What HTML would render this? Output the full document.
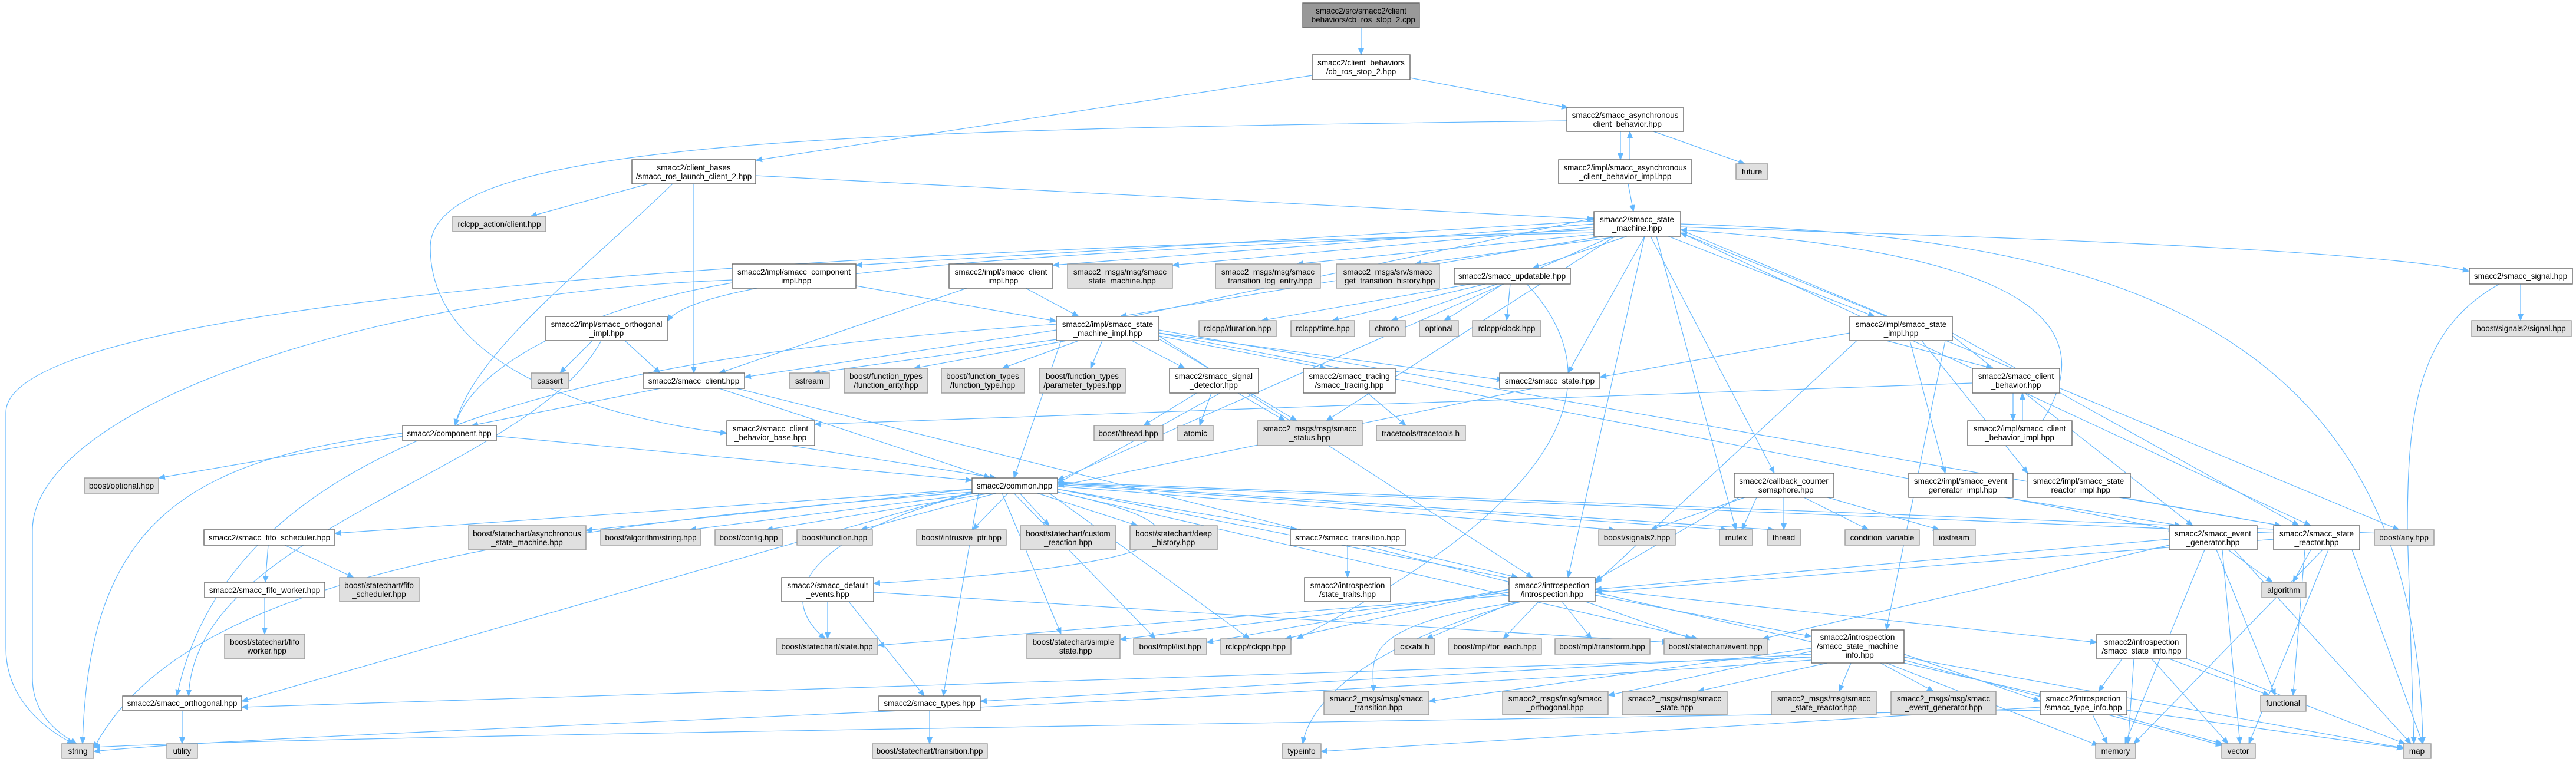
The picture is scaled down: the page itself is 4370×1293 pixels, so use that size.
<!DOCTYPE html>
<html><head><meta charset="utf-8"><style>
html,body{margin:0;padding:0;background:#fff;}
svg{display:block;}
text{font-family:"Liberation Sans",Arial,sans-serif;font-size:13.5px;fill:#000;text-anchor:middle;}
.w{fill:#fff;stroke:#666;stroke-width:1.4;}
.g{fill:#e0e0e0;stroke:#999;stroke-width:1.4;}
.d{fill:#999;stroke:#666;stroke-width:1.4;}
.e path{fill:none;stroke:#63b8ff;stroke-width:1.2;marker-end:url(#a);}
</style></head><body>
<svg width="4370" height="1293" viewBox="0 0 4370 1293" xmlns="http://www.w3.org/2000/svg">
<defs><marker id="a" markerUnits="userSpaceOnUse" markerWidth="12" markerHeight="10" refX="11" refY="5" orient="auto"><path d="M0,0 L12,5 L0,10 z" fill="#63b8ff"/></marker></defs>
<g class="e">
<path d="M2309 47 L2309 93"/>
<path d="M2392 132 L2660 183"/>
<path d="M2226 128 L1282 272"/>
<path d="M2749 223 L2749 271"/>
<path d="M2765 271 L2765 223"/>
<path d="M2762 312 L2771 359"/>
<path d="M2805 223 L2960 278"/>
<path d="M2658 205 C1400 220 730 240 730 420 C730 650 1100 720 1233 735"/>
<path d="M1100 312 L900 367"/>
<path d="M1177 312 L1177 633"/>
<path d="M1282 298 L2704 372"/>
<path d="M1141 312 C1000 450 800 600 772 722"/>
<path d="M2704 375 L1452 450"/>
<path d="M2704 380 L1786 450"/>
<path d="M2710 385 L1989 450"/>
<path d="M2730 395 L2200 448"/>
<path d="M2750 401 L2400 448"/>
<path d="M2760 401 L2600 455"/>
<path d="M2851 385 C3300 400 4000 420 4189 460"/>
<path d="M2704 390 C2000 420 1200 450 1132 545"/>
<path d="M2720 401 L1900 537"/>
<path d="M2790 401 L2660 633"/>
<path d="M2830 401 L3180 537"/>
<path d="M3200 537 L2851 395"/>
<path d="M2740 401 L2250 714"/>
<path d="M2735 401 L1794 815"/>
<path d="M2790 401 L2660 980"/>
<path d="M2800 401 L3010 803"/>
<path d="M2810 401 L2945 899"/>
<path d="M2851 390 L4070 899"/>
<path d="M2851 380 C3500 400 4100 500 4110 1262"/>
<path d="M2851 395 L3920 892"/>
<path d="M2704 395 C1500 420 10 500 10 700 L10 1100 C10 1200 100 1250 125 1262"/>
<path d="M1452 485 L1792 545"/>
<path d="M1242 480 C1000 520 800 620 772 722"/>
<path d="M1242 475 C600 500 55 700 55 900 L55 1150 C55 1220 110 1250 130 1262"/>
<path d="M1740 489 L1830 537"/>
<path d="M1640 489 L1220 633"/>
<path d="M2520 482 L2260 544"/>
<path d="M2540 482 L2360 544"/>
<path d="M2550 482 L2450 544"/>
<path d="M2562 482 L2556 544"/>
<path d="M2495 482 L2140 544"/>
<path d="M2590 482 C2700 600 2750 800 2200 1084"/>
<path d="M4276 482 L4276 544"/>
<path d="M4240 482 C4100 560 4084 700 4084 900 L4095 1262"/>
<path d="M1792 560 L1263 640"/>
<path d="M1800 575 L1380 633"/>
<path d="M1810 578 L1550 625"/>
<path d="M1830 578 L1700 625"/>
<path d="M1870 578 L1850 625"/>
<path d="M1920 578 L2010 625"/>
<path d="M1966 570 L2250 625"/>
<path d="M1966 565 L2550 645"/>
<path d="M1966 575 L2200 714"/>
<path d="M1966 570 L2600 980"/>
<path d="M1966 560 L3870 892"/>
<path d="M1966 565 L3690 900"/>
<path d="M1920 537 L2704 370"/>
<path d="M1792 550 C1100 600 400 700 300 1181"/>
<path d="M1800 578 L1720 811"/>
<path d="M1005 578 L950 633"/>
<path d="M1060 578 L1120 633"/>
<path d="M1020 578 C900 800 330 900 320 1181"/>
<path d="M1120 659 L800 722"/>
<path d="M1220 659 L1680 811"/>
<path d="M1250 659 L2570 990"/>
<path d="M2030 667 L1940 722"/>
<path d="M2055 667 L2035 722"/>
<path d="M2100 667 L2180 714"/>
<path d="M2070 667 L1794 820"/>
<path d="M2320 667 L2385 722"/>
<path d="M2600 659 L1794 825"/>
<path d="M3200 578 L3380 625"/>
<path d="M3138 565 L2714 640"/>
<path d="M3240 578 L3300 803"/>
<path d="M3260 578 L3440 803"/>
<path d="M3150 578 L2706 990"/>
<path d="M3312 565 L3900 892"/>
<path d="M3312 570 L3720 892"/>
<path d="M3300 578 L3200 1069"/>
<path d="M3415 667 L3415 714"/>
<path d="M3431 714 L3431 667"/>
<path d="M3346 650 L1382 720"/>
<path d="M3465 714 C3600 500 3300 420 2851 390"/>
<path d="M842 740 L1649 815"/>
<path d="M683 740 L269 811"/>
<path d="M683 735 C300 780 150 900 140 1262"/>
<path d="M1340 756 L1690 811"/>
<path d="M1649 830 L568 905"/>
<path d="M1649 830 L994 900"/>
<path d="M1660 837 L1170 899"/>
<path d="M1680 837 L1300 899"/>
<path d="M1690 837 L1460 899"/>
<path d="M1710 837 L1650 899"/>
<path d="M1730 837 L1780 892"/>
<path d="M1760 837 L1930 892"/>
<path d="M1794 830 L2200 899"/>
<path d="M1794 825 L2740 899"/>
<path d="M1794 822 L2930 899"/>
<path d="M1794 820 L3010 899"/>
<path d="M1794 818 L4040 905"/>
<path d="M1794 820 L3870 905"/>
<path d="M1794 830 L2580 985"/>
<path d="M1794 835 C2100 900 2000 960 1482 990"/>
<path d="M1649 837 C1400 900 1300 1000 1400 1084"/>
<path d="M1700 837 L1800 1076"/>
<path d="M1720 837 L1960 1084"/>
<path d="M1780 837 L2120 1084"/>
<path d="M1660 837 L1600 1181"/>
<path d="M1649 835 L410 1190"/>
<path d="M1649 835 C800 900 300 1000 159 1270"/>
<path d="M1794 835 L2880 1084"/>
<path d="M2980 844 L2955 899"/>
<path d="M3026 844 L3026 899"/>
<path d="M3060 844 L3170 899"/>
<path d="M3100 844 L3290 899"/>
<path d="M2960 844 L2800 899"/>
<path d="M2950 844 L2706 985"/>
<path d="M3400 844 L3700 892"/>
<path d="M3600 844 L3870 892"/>
<path d="M455 925 L450 988"/>
<path d="M483 925 L600 980"/>
<path d="M449 1014 L449 1076"/>
<path d="M2286 925 L2286 980"/>
<path d="M2340 925 L2575 980"/>
<path d="M1404 1021 L1404 1084"/>
<path d="M1440 1021 L1568 1181"/>
<path d="M1482 1005 L2830 1090"/>
<path d="M2570 1021 L2420 1084"/>
<path d="M2610 1021 L2550 1084"/>
<path d="M2650 1021 L2700 1084"/>
<path d="M2690 1021 L2870 1084"/>
<path d="M2706 1010 L3073 1080"/>
<path d="M2560 1010 L1489 1095"/>
<path d="M2560 1005 L1900 1085"/>
<path d="M2560 1000 L2047 1090"/>
<path d="M2560 1000 L2180 1084"/>
<path d="M2580 1021 C2300 1060 2330 1120 2330 1173"/>
<path d="M2580 1021 C2300 1100 2220 1200 2210 1262"/>
<path d="M2706 1000 L3557 1090"/>
<path d="M2706 1005 L3470 1180"/>
<path d="M3073 1100 L2424 1190"/>
<path d="M3073 1105 L2728 1180"/>
<path d="M3100 1125 L2880 1173"/>
<path d="M3140 1125 L3120 1173"/>
<path d="M3190 1125 L3280 1173"/>
<path d="M3230 1110 L3461 1190"/>
<path d="M3200 1125 L3560 1265"/>
<path d="M3230 1120 L3770 1265"/>
<path d="M3230 1115 L4080 1270"/>
<path d="M3073 1110 L1663 1190"/>
<path d="M3073 1115 L410 1200"/>
<path d="M3073 1120 C2000 1200 500 1240 159 1275"/>
<path d="M3600 1118 L3560 1173"/>
<path d="M3620 1118 L3610 1262"/>
<path d="M3650 1118 L3780 1262"/>
<path d="M3680 1118 L3850 1180"/>
<path d="M3690 1110 L4080 1262"/>
<path d="M3550 1213 L3575 1262"/>
<path d="M3590 1213 L3770 1262"/>
<path d="M3608 1205 L4077 1270"/>
<path d="M3461 1200 L2241 1275"/>
<path d="M3461 1205 C2000 1230 500 1250 159 1268"/>
<path d="M3780 933 L3855 988"/>
<path d="M3760 933 L3860 1180"/>
<path d="M3740 933 L3605 1262"/>
<path d="M3770 933 L3800 1262"/>
<path d="M3790 933 L4090 1262"/>
<path d="M3680 915 L2706 1000"/>
<path d="M3680 925 L2990 1084"/>
<path d="M3920 933 L3890 988"/>
<path d="M3910 933 L3890 1180"/>
<path d="M3940 933 L3620 1262"/>
<path d="M3950 933 L3815 1262"/>
<path d="M3990 933 L4110 1262"/>
<path d="M3857 915 L2706 1005"/>
<path d="M309 1206 L309 1262"/>
<path d="M1577 1206 L1577 1262"/>
</g>
<g>
<rect class="d" x="2210" y="5" width="198" height="42"/><text x="2309" y="23">smacc2/src/smacc2/client</text><text x="2309" y="38">_behaviors/cb_ros_stop_2.cpp</text>
<rect class="w" x="2226" y="93" width="166" height="42"/><text x="2309" y="111">smacc2/client_behaviors</text><text x="2309" y="126">/cb_ros_stop_2.hpp</text>
<rect class="w" x="2658" y="183" width="198" height="40"/><text x="2757" y="200">smacc2/smacc_asynchronous</text><text x="2757" y="215">_client_behavior.hpp</text>
<rect class="w" x="1072" y="271" width="210" height="41"/><text x="1177" y="289">smacc2/client_bases</text><text x="1177" y="304">/smacc_ros_launch_client_2.hpp</text>
<rect class="w" x="2644" y="271" width="226" height="41"/><text x="2757" y="289">smacc2/impl/smacc_asynchronous</text><text x="2757" y="304">_client_behavior_impl.hpp</text>
<rect class="g" x="2945" y="278" width="54" height="26"/><text x="2972" y="296">future</text>
<rect class="g" x="768" y="367" width="158" height="26"/><text x="847" y="385">rclcpp_action/client.hpp</text>
<rect class="w" x="2704" y="359" width="147" height="42"/><text x="2777" y="377">smacc2/smacc_state</text><text x="2777" y="392">_machine.hpp</text>
<rect class="w" x="1242" y="448" width="210" height="41"/><text x="1347" y="466">smacc2/impl/smacc_component</text><text x="1347" y="481">_impl.hpp</text>
<rect class="w" x="1610" y="448" width="176" height="41"/><text x="1698" y="466">smacc2/impl/smacc_client</text><text x="1698" y="481">_impl.hpp</text>
<rect class="g" x="1811" y="448" width="178" height="41"/><text x="1900" y="466">smacc2_msgs/msg/smacc</text><text x="1900" y="481">_state_machine.hpp</text>
<rect class="g" x="2062" y="448" width="178" height="41"/><text x="2151" y="466">smacc2_msgs/msg/smacc</text><text x="2151" y="481">_transition_log_entry.hpp</text>
<rect class="g" x="2267" y="448" width="175" height="41"/><text x="2354" y="466">smacc2_msgs/srv/smacc</text><text x="2354" y="481">_get_transition_history.hpp</text>
<rect class="w" x="2467" y="455" width="197" height="27"/><text x="2565" y="473">smacc2/smacc_updatable.hpp</text>
<rect class="w" x="4189" y="455" width="175" height="27"/><text x="4276" y="473">smacc2/smacc_signal.hpp</text>
<rect class="w" x="926" y="537" width="206" height="41"/><text x="1029" y="555">smacc2/impl/smacc_orthogonal</text><text x="1029" y="570">_impl.hpp</text>
<rect class="w" x="1792" y="537" width="174" height="41"/><text x="1879" y="555">smacc2/impl/smacc_state</text><text x="1879" y="570">_machine_impl.hpp</text>
<rect class="g" x="2034" y="544" width="131" height="27"/><text x="2099" y="562">rclcpp/duration.hpp</text>
<rect class="g" x="2190" y="544" width="108" height="27"/><text x="2244" y="562">rclcpp/time.hpp</text>
<rect class="g" x="2323" y="544" width="61" height="27"/><text x="2353" y="562">chrono</text>
<rect class="g" x="2408" y="544" width="66" height="27"/><text x="2441" y="562">optional</text>
<rect class="g" x="2498" y="544" width="116" height="27"/><text x="2556" y="562">rclcpp/clock.hpp</text>
<rect class="w" x="3138" y="537" width="174" height="41"/><text x="3225" y="555">smacc2/impl/smacc_state</text><text x="3225" y="570">_impl.hpp</text>
<rect class="g" x="4193" y="544" width="169" height="27"/><text x="4277" y="562">boost/signals2/signal.hpp</text>
<rect class="g" x="901" y="633" width="64" height="26"/><text x="933" y="651">cassert</text>
<rect class="w" x="1091" y="633" width="172" height="26"/><text x="1177" y="651">smacc2/smacc_client.hpp</text>
<rect class="g" x="1339" y="633" width="68" height="26"/><text x="1373" y="651">sstream</text>
<rect class="g" x="1432" y="625" width="142" height="42"/><text x="1503" y="643">boost/function_types</text><text x="1503" y="658">/function_arity.hpp</text>
<rect class="g" x="1597" y="625" width="141" height="42"/><text x="1667" y="643">boost/function_types</text><text x="1667" y="658">/function_type.hpp</text>
<rect class="g" x="1763" y="625" width="146" height="42"/><text x="1836" y="643">boost/function_types</text><text x="1836" y="658">/parameter_types.hpp</text>
<rect class="w" x="1984" y="625" width="151" height="42"/><text x="2059" y="643">smacc2/smacc_signal</text><text x="2059" y="658">_detector.hpp</text>
<rect class="w" x="2211" y="625" width="156" height="42"/><text x="2289" y="643">smacc2/smacc_tracing</text><text x="2289" y="658">/smacc_tracing.hpp</text>
<rect class="w" x="2544" y="633" width="170" height="26"/><text x="2629" y="651">smacc2/smacc_state.hpp</text>
<rect class="w" x="3346" y="625" width="148" height="42"/><text x="3420" y="643">smacc2/smacc_client</text><text x="3420" y="658">_behavior.hpp</text>
<rect class="w" x="683" y="722" width="159" height="26"/><text x="762" y="740">smacc2/component.hpp</text>
<rect class="w" x="1233" y="714" width="149" height="42"/><text x="1307" y="732">smacc2/smacc_client</text><text x="1307" y="747">_behavior_base.hpp</text>
<rect class="g" x="1856" y="722" width="117" height="26"/><text x="1914" y="740">boost/thread.hpp</text>
<rect class="g" x="1998" y="722" width="60" height="26"/><text x="2028" y="740">atomic</text>
<rect class="g" x="2133" y="714" width="178" height="42"/><text x="2222" y="732">smacc2_msgs/msg/smacc</text><text x="2222" y="747">_status.hpp</text>
<rect class="g" x="2335" y="722" width="151" height="26"/><text x="2410" y="740">tracetools/tracetools.h</text>
<rect class="w" x="3338" y="714" width="177" height="42"/><text x="3426" y="732">smacc2/impl/smacc_client</text><text x="3426" y="747">_behavior_impl.hpp</text>
<rect class="g" x="143" y="811" width="126" height="26"/><text x="206" y="829">boost/optional.hpp</text>
<rect class="w" x="1649" y="811" width="145" height="26"/><text x="1721" y="829">smacc2/common.hpp</text>
<rect class="w" x="2942" y="803" width="169" height="41"/><text x="3026" y="821">smacc2/callback_counter</text><text x="3026" y="836">_semaphore.hpp</text>
<rect class="w" x="3238" y="803" width="177" height="41"/><text x="3326" y="821">smacc2/impl/smacc_event</text><text x="3326" y="836">_generator_impl.hpp</text>
<rect class="w" x="3439" y="803" width="175" height="41"/><text x="3526" y="821">smacc2/impl/smacc_state</text><text x="3526" y="836">_reactor_impl.hpp</text>
<rect class="w" x="346" y="899" width="222" height="26"/><text x="457" y="917">smacc2/smacc_fifo_scheduler.hpp</text>
<rect class="g" x="795" y="892" width="199" height="41"/><text x="894" y="910">boost/statechart/asynchronous</text><text x="894" y="925">_state_machine.hpp</text>
<rect class="g" x="1019" y="899" width="170" height="26"/><text x="1104" y="917">boost/algorithm/string.hpp</text>
<rect class="g" x="1213" y="899" width="115" height="26"/><text x="1270" y="917">boost/config.hpp</text>
<rect class="g" x="1352" y="899" width="128" height="26"/><text x="1416" y="917">boost/function.hpp</text>
<rect class="g" x="1555" y="899" width="152" height="26"/><text x="1631" y="917">boost/intrusive_ptr.hpp</text>
<rect class="g" x="1731" y="892" width="162" height="41"/><text x="1812" y="910">boost/statechart/custom</text><text x="1812" y="925">_reaction.hpp</text>
<rect class="g" x="1917" y="892" width="148" height="41"/><text x="1991" y="910">boost/statechart/deep</text><text x="1991" y="925">_history.hpp</text>
<rect class="w" x="2189" y="899" width="195" height="26"/><text x="2286" y="917">smacc2/smacc_transition.hpp</text>
<rect class="g" x="2712" y="899" width="130" height="26"/><text x="2777" y="917">boost/signals2.hpp</text>
<rect class="g" x="2917" y="899" width="56" height="26"/><text x="2945" y="917">mutex</text>
<rect class="g" x="2998" y="899" width="57" height="26"/><text x="3026" y="917">thread</text>
<rect class="g" x="3130" y="899" width="126" height="26"/><text x="3193" y="917">condition_variable</text>
<rect class="g" x="3280" y="899" width="71" height="26"/><text x="3315" y="917">iostream</text>
<rect class="w" x="3680" y="892" width="149" height="41"/><text x="3754" y="910">smacc2/smacc_event</text><text x="3754" y="925">_generator.hpp</text>
<rect class="w" x="3857" y="892" width="146" height="41"/><text x="3930" y="910">smacc2/smacc_state</text><text x="3930" y="925">_reactor.hpp</text>
<rect class="g" x="4028" y="899" width="101" height="26"/><text x="4078" y="917">boost/any.hpp</text>
<rect class="w" x="347" y="988" width="204" height="26"/><text x="449" y="1006">smacc2/smacc_fifo_worker.hpp</text>
<rect class="g" x="576" y="980" width="135" height="41"/><text x="643" y="998">boost/statechart/fifo</text><text x="643" y="1013">_scheduler.hpp</text>
<rect class="w" x="1326" y="980" width="156" height="41"/><text x="1404" y="998">smacc2/smacc_default</text><text x="1404" y="1013">_events.hpp</text>
<rect class="w" x="2213" y="980" width="146" height="41"/><text x="2286" y="998">smacc2/introspection</text><text x="2286" y="1013">/state_traits.hpp</text>
<rect class="w" x="2560" y="980" width="146" height="41"/><text x="2633" y="998">smacc2/introspection</text><text x="2633" y="1013">/introspection.hpp</text>
<rect class="g" x="3837" y="988" width="75" height="26"/><text x="3874" y="1006">algorithm</text>
<rect class="g" x="381" y="1076" width="136" height="42"/><text x="449" y="1094">boost/statechart/fifo</text><text x="449" y="1109">_worker.hpp</text>
<rect class="g" x="1317" y="1084" width="172" height="26"/><text x="1403" y="1102">boost/statechart/state.hpp</text>
<rect class="g" x="1742" y="1076" width="158" height="42"/><text x="1821" y="1094">boost/statechart/simple</text><text x="1821" y="1109">_state.hpp</text>
<rect class="g" x="1923" y="1084" width="124" height="26"/><text x="1985" y="1102">boost/mpl/list.hpp</text>
<rect class="g" x="2071" y="1084" width="119" height="26"/><text x="2130" y="1102">rclcpp/rclcpp.hpp</text>
<rect class="g" x="2366" y="1084" width="68" height="26"/><text x="2400" y="1102">cxxabi.h</text>
<rect class="g" x="2457" y="1084" width="158" height="26"/><text x="2536" y="1102">boost/mpl/for_each.hpp</text>
<rect class="g" x="2638" y="1084" width="161" height="26"/><text x="2718" y="1102">boost/mpl/transform.hpp</text>
<rect class="g" x="2823" y="1084" width="175" height="26"/><text x="2910" y="1102">boost/statechart/event.hpp</text>
<rect class="w" x="3073" y="1069" width="157" height="56"/><text x="3151" y="1086">smacc2/introspection</text><text x="3151" y="1101">/smacc_state_machine</text><text x="3151" y="1116">_info.hpp</text>
<rect class="w" x="3557" y="1076" width="152" height="42"/><text x="3633" y="1094">smacc2/introspection</text><text x="3633" y="1109">/smacc_state_info.hpp</text>
<rect class="w" x="208" y="1181" width="202" height="25"/><text x="309" y="1198">smacc2/smacc_orthogonal.hpp</text>
<rect class="w" x="1491" y="1181" width="172" height="25"/><text x="1577" y="1198">smacc2/smacc_types.hpp</text>
<rect class="g" x="2246" y="1173" width="178" height="40"/><text x="2335" y="1190">smacc2_msgs/msg/smacc</text><text x="2335" y="1205">_transition.hpp</text>
<rect class="g" x="2549" y="1173" width="179" height="40"/><text x="2638" y="1190">smacc2_msgs/msg/smacc</text><text x="2638" y="1205">_orthogonal.hpp</text>
<rect class="g" x="2752" y="1173" width="178" height="40"/><text x="2841" y="1190">smacc2_msgs/msg/smacc</text><text x="2841" y="1205">_state.hpp</text>
<rect class="g" x="3005" y="1173" width="178" height="40"/><text x="3094" y="1190">smacc2_msgs/msg/smacc</text><text x="3094" y="1205">_state_reactor.hpp</text>
<rect class="g" x="3208" y="1173" width="178" height="40"/><text x="3297" y="1190">smacc2_msgs/msg/smacc</text><text x="3297" y="1205">_event_generator.hpp</text>
<rect class="w" x="3461" y="1173" width="147" height="40"/><text x="3534" y="1190">smacc2/introspection</text><text x="3534" y="1205">/smacc_type_info.hpp</text>
<rect class="g" x="3835" y="1180" width="77" height="27"/><text x="3873" y="1198">functional</text>
<rect class="g" x="105" y="1262" width="54" height="25"/><text x="132" y="1279">string</text>
<rect class="g" x="283" y="1262" width="52" height="25"/><text x="309" y="1279">utility</text>
<rect class="g" x="1480" y="1262" width="195" height="25"/><text x="1577" y="1279">boost/statechart/transition.hpp</text>
<rect class="g" x="2175" y="1262" width="66" height="25"/><text x="2208" y="1279">typeinfo</text>
<rect class="g" x="3555" y="1262" width="68" height="25"/><text x="3589" y="1279">memory</text>
<rect class="g" x="3769" y="1262" width="57" height="25"/><text x="3797" y="1279">vector</text>
<rect class="g" x="4077" y="1262" width="47" height="25"/><text x="4100" y="1279">map</text>
</g>
</svg>
</body></html>
